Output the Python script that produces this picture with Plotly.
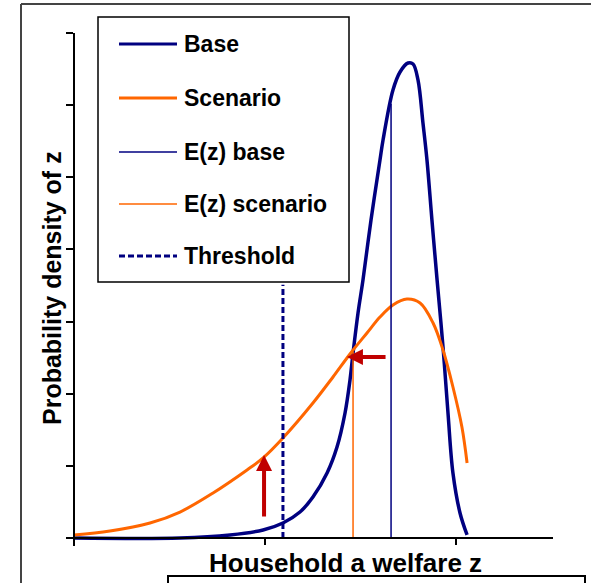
import plotly.graph_objects as go

# ---------------- data ----------------
base_x = [0.000, 0.555, 0.817, 0.990, 1.094, 1.183, 1.251, 1.325, 1.377, 1.419, 1.445, 1.461,
          1.487, 1.513, 1.555, 1.602, 1.618, 1.670, 1.707, 1.749, 1.775, 1.801, 1.827, 1.848,
          1.874, 1.901, 1.932, 1.958, 1.984, 2.021, 2.058]
base_y = [0.000, 0.000, 0.042, 0.111, 0.208, 0.360, 0.568, 0.901, 1.261, 1.733, 2.190, 2.564,
          3.119, 3.576, 4.408, 5.240, 5.517, 6.210, 6.460, 6.584, 6.571, 6.349, 5.753, 5.240,
          4.408, 3.576, 2.648, 1.733, 0.901, 0.347, 0.042]

scen_x = [0.000, 0.188, 0.398, 0.555, 0.728, 0.906, 0.990, 1.094, 1.251, 1.356, 1.445,
          1.534, 1.602, 1.670, 1.743, 1.812, 1.880, 1.932, 1.984, 2.031, 2.058]
scen_y = [0.042, 0.097, 0.208, 0.360, 0.624, 0.943, 1.109, 1.386, 1.871, 2.232, 2.551,
          2.842, 3.063, 3.230, 3.313, 3.258, 2.980, 2.606, 2.093, 1.539, 1.040]

threshold_x = 1.094
threshold_top = 3.51
ez_base_x = 1.660
ez_base_top = 6.02
ez_scen_x = 1.461
ez_scen_top = 2.58

x_ticks = [0, 1, 2]
y_ticks = [0, 1, 2, 3, 4, 5, 6, 7]

arrow_tip_x = [0.995, 1.429]
arrow_tip_y = [1.15, 2.509]
arrow_tail_x = [0.995, 1.639]
arrow_tail_y = [0.277, 2.509]

legend_labels = ["Base", "Scenario", "E(z) base", "E(z) scenario", "Threshold"]
x_title = "Household a welfare z"
y_title = "Probability density of z"

# ---------------- styles ----------------
NAVY = "#000080"
ORANGE = "#FF6600"
RED = "#C00000"
FONT = "Liberation Sans, Arial, sans-serif"

W, H = 591, 583
PL, PR, PT, PB = 67, 553, 33, 546


def px(x):
    return (x - PL) / (PR - PL)


def py(y):
    return (PB - y) / (PB - PT)


fig = go.Figure()
fig.add_trace(go.Scatter(x=base_x, y=base_y, mode="lines",
                         line=dict(color=NAVY, width=3.5, shape="spline", smoothing=1.0),
                         showlegend=False, hoverinfo="skip"))
fig.add_trace(go.Scatter(x=scen_x, y=scen_y, mode="lines",
                         line=dict(color=ORANGE, width=3, shape="spline", smoothing=1.0),
                         showlegend=False, hoverinfo="skip"))
fig.add_trace(go.Scatter(x=[ez_base_x, ez_base_x], y=[0, ez_base_top], mode="lines",
                         line=dict(color=NAVY, width=1.5), showlegend=False, hoverinfo="skip"))
fig.add_trace(go.Scatter(x=[ez_scen_x, ez_scen_x], y=[0, ez_scen_top], mode="lines",
                         line=dict(color=ORANGE, width=1.5), showlegend=False, hoverinfo="skip"))
fig.add_trace(go.Scatter(x=[threshold_x, threshold_x], y=[0, threshold_top], mode="lines",
                         line=dict(color=NAVY, width=3, dash="6px,3px"), showlegend=False, hoverinfo="skip"))

# arrows
for tx, ty, ax_, ay_ in zip(arrow_tip_x, arrow_tip_y, arrow_tail_x, arrow_tail_y):
    fig.add_annotation(x=tx, y=ty, ax=ax_, ay=ay_, xref="x", yref="y", axref="x", ayref="y",
                       text="", showarrow=True, arrowhead=2, arrowsize=0.8, arrowwidth=4,
                       arrowcolor=RED, standoff=0)

shapes = []
# outer frame lines
shapes.append(dict(type="line", xref="paper", yref="paper", x0=px(21), x1=px(591), y0=py(4), y1=py(4),
                   line=dict(color="#444444", width=2)))
shapes.append(dict(type="line", xref="paper", yref="paper", x0=px(21), x1=px(21), y0=py(4), y1=py(590),
                   line=dict(color="#444444", width=2)))
# bottom box
shapes.append(dict(type="rect", xref="paper", yref="paper", x0=px(168), x1=px(585), y0=py(600), y1=py(576),
                   line=dict(color="black", width=2)))
# legend box
shapes.append(dict(type="rect", xref="paper", yref="paper", x0=px(98), x1=px(349), y0=py(282), y1=py(17),
                   line=dict(color="black", width=1.5), fillcolor="white"))

rows = [44, 98, 152, 204, 256]
styles = [dict(color=NAVY, width=3), dict(color=ORANGE, width=3), dict(color=NAVY, width=1.5),
          dict(color=ORANGE, width=1.5), dict(color=NAVY, width=3, dash="6px,3px")]
for label, ry, st in zip(legend_labels, rows, styles):
    shapes.append(dict(type="line", xref="paper", yref="paper", x0=px(119), x1=px(177), y0=py(ry), y1=py(ry),
                       line=st))
    fig.add_annotation(x=px(182), y=py(ry), xref="paper", yref="paper", text="<b>%s</b>" % label,
                       showarrow=False, xanchor="left", yanchor="middle",
                       font=dict(family=FONT, size=23, color="black"))

fig.add_annotation(x=px(345), y=py(563), xref="paper", yref="paper", text="<b>%s</b>" % x_title,
                   showarrow=False, xanchor="center", yanchor="middle",
                   font=dict(family=FONT, size=26, color="black"))
fig.add_annotation(x=px(52), y=py(288), xref="paper", yref="paper", text="<b>%s</b>" % y_title,
                   showarrow=False, xanchor="center", yanchor="middle", textangle=-90,
                   font=dict(family=FONT, size=25, color="black"))

fig.update_layout(
    width=W, height=H, autosize=False,
    margin=dict(l=PL, r=W - PR, t=PT, b=H - PB, pad=0),
    paper_bgcolor="white", plot_bgcolor="white",
    shapes=shapes,
    showlegend=False,
    xaxis=dict(range=[-(74 - PL) / 191, (PR - 74) / 191], tickvals=x_ticks, showticklabels=False,
               ticks="outside", ticklen=6, tickwidth=1.5, tickcolor="black",
               showline=True, linecolor="black", linewidth=1.5, showgrid=False, zeroline=False,
               anchor="free", position=(PB - 538) / (PB - PT)),
    yaxis=dict(range=[-(PB - 538) / 72.14, 7], tickvals=y_ticks, showticklabels=False,
               ticks="outside", ticklen=7, tickwidth=1.5, tickcolor="black",
               showline=True, linecolor="black", linewidth=1.5, showgrid=False, zeroline=False,
               anchor="free", position=(74 - PL) / (PR - PL)),
)

fig.write_html("out.html", config={"displayModeBar": False},
               post_script="document.body.style.margin='0px';document.body.style.overflow='hidden';")
